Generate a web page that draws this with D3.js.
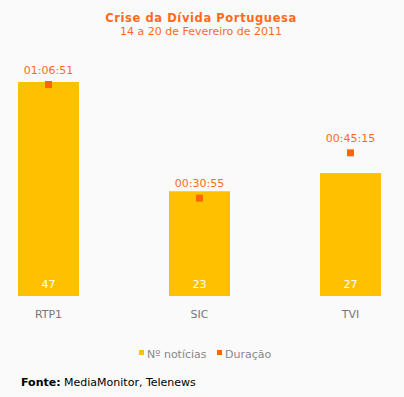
<!DOCTYPE html>
<html>
<head>
<meta charset="utf-8">
<script src="https://cdn.jsdelivr.net/npm/d3@7"></script>
<style>
  body { margin: 0; background: #fafafa; }
  svg { display: block; font-family: "DejaVu Sans", Verdana, sans-serif; }
</style>
</head>
<body>
<div class="chart"></div>
<script>
// chart data
var channels = ["RTP1", "SIC", "TVI"];
var newsCount = [47, 23, 27];
var durationLabels = ["01:06:51", "00:30:55", "00:45:15"];

var svgWidth = 404;
var svgHeight = 397;

var margin = { top: 82, right: 0, bottom: 101, left: 0 };
var height = svgHeight - margin.top - margin.bottom; // baseline at 296

function toSeconds(s) {
  var p = s.split(":").map(Number);
  return p[0] * 3600 + p[1] * 60 + p[2];
}
var durations = durationLabels.map(toSeconds);

var svg = d3.select(".chart")
  .append("svg")
  .attr("width", svgWidth)
  .attr("height", svgHeight);

svg.append("rect")
  .attr("width", svgWidth)
  .attr("height", svgHeight)
  .attr("fill", "#fafafa");

// title
svg.append("text")
  .attr("x", 201).attr("y", 22)
  .attr("text-anchor", "middle")
  .attr("font-size", 11.5).attr("font-weight", "bold")
  .attr("letter-spacing", 0.6)
  .attr("fill", "#ff6a1c")
  .text("Crise da Dívida Portuguesa");

svg.append("text")
  .attr("x", 201).attr("y", 35)
  .attr("text-anchor", "middle")
  .attr("font-size", 11)
  .attr("fill", "#ff6a1c")
  .text("14 a 20 de Fevereiro de 2011");

var chartGroup = svg.append("g")
  .attr("transform", `translate(${margin.left}, ${margin.top})`);

var xScale = d3.scaleBand()
  .domain(channels)
  .range([-27, 426])
  .paddingInner(0.6)
  .paddingOuter(0.3);

// scale the bars so that 47 fills the plotted height
var yScale = d3.scaleLinear()
  .domain([0, 47])
  .range([height, 0]);

var yDur = d3.scaleLinear()
  .domain([0, 4011])
  .range([height, height - 211.5]);

var bandCenter = d => xScale(d) + xScale.bandwidth() / 2;
var barW = 61;

// bars
chartGroup.selectAll(".bar")
  .data(channels)
  .enter()
  .append("rect")
  .attr("class", "bar")
  .attr("x", d => bandCenter(d) - barW / 2)
  .attr("width", barW)
  .attr("y", (d, i) => yScale(newsCount[i]))
  .attr("height", (d, i) => height - yScale(newsCount[i]))
  .attr("fill", "#ffc000");

// count labels inside bars
chartGroup.selectAll(".countLabel")
  .data(channels)
  .enter()
  .append("text")
  .attr("x", d => bandCenter(d))
  .attr("y", height - 8)
  .attr("text-anchor", "middle")
  .attr("font-size", 11)
  .attr("fill", "#ffffff")
  .text((d, i) => newsCount[i]);

// duration markers
chartGroup.selectAll(".durMark")
  .data(channels)
  .enter()
  .append("rect")
  .attr("x", d => bandCenter(d) - 3.5)
  .attr("y", (d, i) => yDur(durations[i]) - 3.5)
  .attr("width", 7)
  .attr("height", 7)
  .attr("fill", "#ff6600");

chartGroup.selectAll(".durLabel")
  .data(channels)
  .enter()
  .append("text")
  .attr("x", d => bandCenter(d))
  .attr("y", (d, i) => yDur(durations[i]) - 11)
  .attr("text-anchor", "middle")
  .attr("font-size", 11)
  .attr("fill", "#ff6a1c")
  .text((d, i) => durationLabels[i]);

// category axis
var bottomAxis = d3.axisBottom(xScale).tickSize(0).tickPadding(14);
chartGroup.append("g")
  .attr("transform", `translate(0, ${height})`)
  .call(bottomAxis)
  .call(g => g.select(".domain").remove())
  .selectAll("text")
  .attr("font-family", "DejaVu Sans, Verdana, sans-serif")
  .attr("font-size", 11)
  .attr("fill", "#777777");

// legend
var legend = svg.append("g").attr("transform", "translate(139, 358)");
var legendItems = [
  { label: "Nº notícias", color: "#ffc000", x: 0 },
  { label: "Duração", color: "#ff6600", x: 78 }
];
legendItems.forEach(function(item) {
  legend.append("rect")
    .attr("x", item.x).attr("y", -8)
    .attr("width", 5).attr("height", 5)
    .attr("fill", item.color);
  legend.append("text")
    .attr("x", item.x + 8).attr("y", 0)
    .attr("font-size", 11)
    .attr("fill", "#888888")
    .text(item.label);
});

// source
var source = svg.append("text")
  .attr("x", 21).attr("y", 386)
  .attr("font-size", 11)
  .attr("fill", "#000000");
source.append("tspan").attr("font-weight", "bold").text("Fonte:");
source.append("tspan").text(" MediaMonitor, Telenews");
</script>
</body>
</html>
